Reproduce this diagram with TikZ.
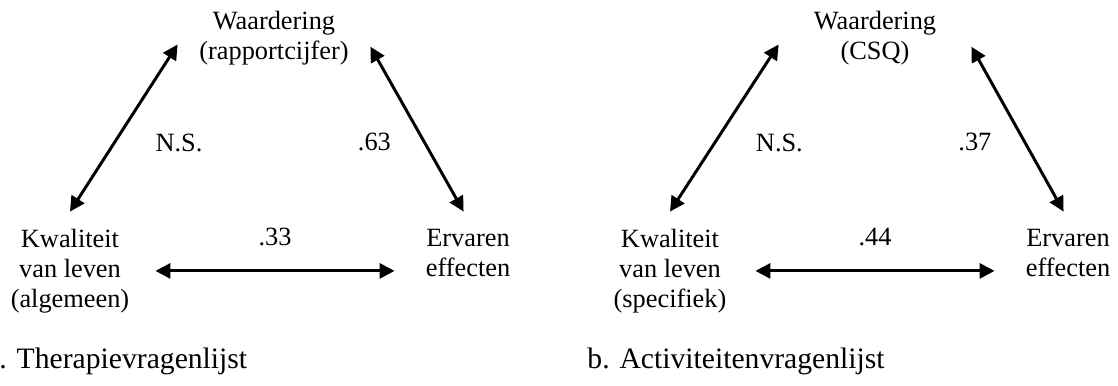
\documentclass[tikz,border=0pt]{standalone}
\usepackage{fontspec}
\setmainfont{Liberation Serif}
\usetikzlibrary{arrows.meta,positioning}

\begin{document}
\begin{tikzpicture}[x=0.016cm, y=-0.016cm,
    var/.style={font=\fontsize{12}{13.66}\selectfont, align=center, inner sep=0pt},
    waard/.style={var, minimum width=87.4pt},
    kwal/.style={var, minimum width=77.4pt, minimum height=53.6pt},
    erv/.style={var, minimum width=66.5pt, minimum height=37.6pt},
    coef/.style={font=\fontsize{12}{13.66}\selectfont, inner sep=0pt},
    capt/.style={font=\fontsize{13.5}{16}\selectfont, inner sep=0pt, anchor=base west},
    biarrow/.style={{Triangle[length=6.8pt,width=6.8pt]}-{Triangle[length=6.8pt,width=6.8pt]}, line width=1.35pt}]
    \useasboundingbox (0,0) rectangle (1118,385);

    % a. Therapievragenlijst
    \node[waard] (waardA) at (274,37.9) {Waardering\\(rapportcijfer)};
    \node[kwal] (kwalA) at (70,270.9) {Kwaliteit\\van leven\\(algemeen)};
    \node[erv] (ervA) at (468,253.3) {Ervaren\\effecten};

    \draw[biarrow] (kwalA.north) -- ([yshift=-3pt]waardA.west)
        node[coef, pos=.41, right=18.2pt] (nsA) {N.S.};
    \draw[biarrow] ([xshift=-2pt]ervA.north) -- ([yshift=-4pt]waardA.east)
        node[coef, pos=.42, left=14.6pt] (rEWA) {.63};
    \draw[biarrow] (kwalA.east) -- (kwalA.east -| ervA.west)
        node[coef, midway, above=10.9pt] (rKEA) {.33};

    \node[capt] (capA) at (-1,368) {. Therapievragenlijst};

    % b. Activiteitenvragenlijst
    \node[waard] (waardB) at (875,37.9) {Waardering\\(CSQ)};
    \node[kwal] (kwalB) at (670,270.9) {Kwaliteit\\van leven\\(specifiek)};
    \node[erv] (ervB) at (1068,253.3) {Ervaren\\effecten};

    \draw[biarrow] (kwalB.north) -- ([yshift=-3pt]waardB.west)
        node[coef, pos=.41, right=18.2pt] (nsB) {N.S.};
    \draw[biarrow] ([xshift=-2pt]ervB.north) -- ([yshift=-4pt]waardB.east)
        node[coef, pos=.42, left=14.6pt] (rEWB) {.37};
    \draw[biarrow] (kwalB.east) -- (kwalB.east -| ervB.west)
        node[coef, midway, above=10.9pt] (rKEB) {.44};

    \node[capt] (capB) at (587,368) {b. Activiteitenvragenlijst};
\end{tikzpicture}
\end{document}
